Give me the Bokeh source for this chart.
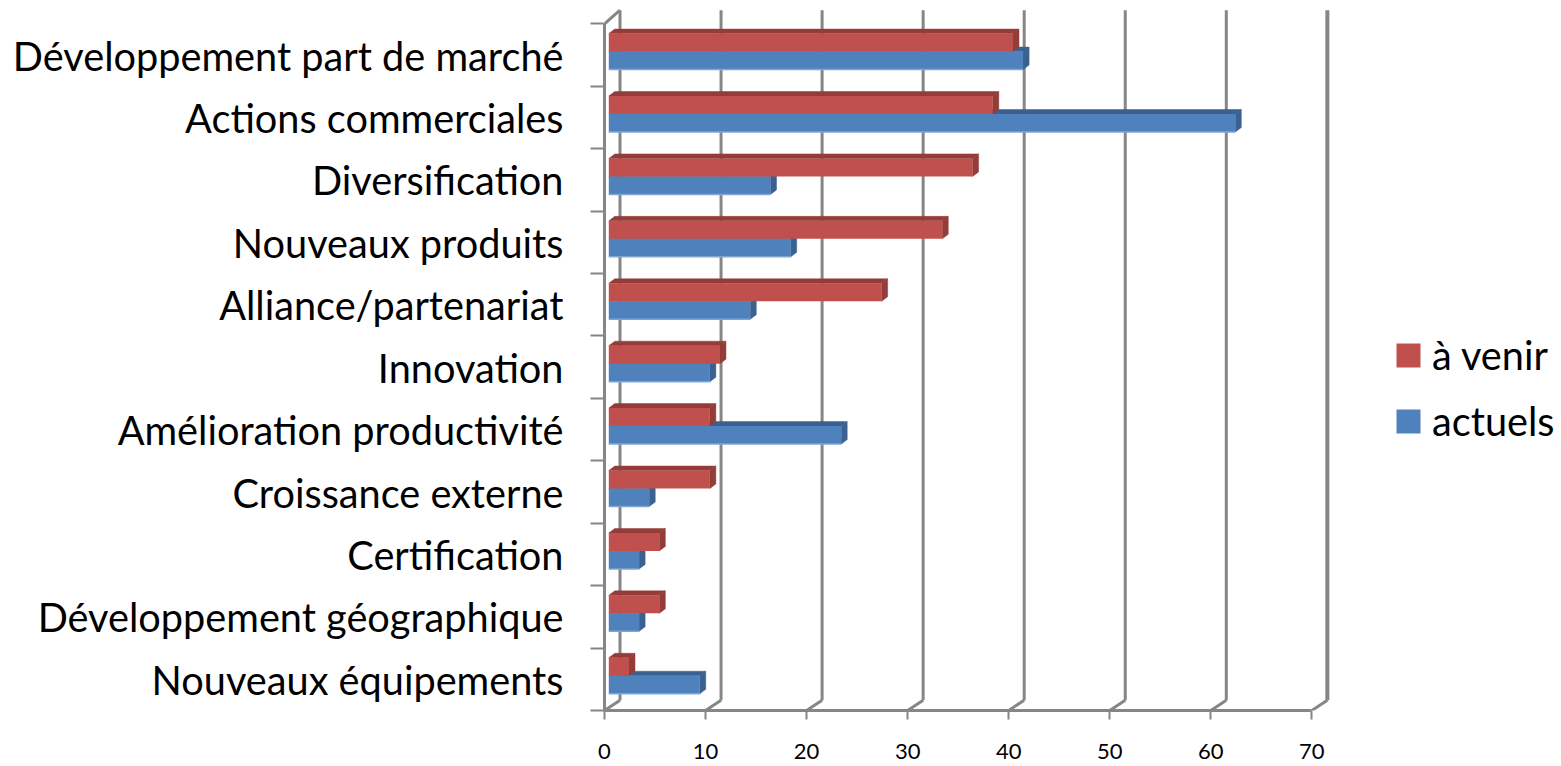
from bokeh.plotting import figure
from bokeh.models import LinearAxis, FixedTicker, Legend, LegendItem
from bokeh.embed import file_html
from bokeh.resources import INLINE

categories = ["Développement part de marché", "Actions commerciales", "Diversification",
              "Nouveaux produits", "Alliance/partenariat", "Innovation",
              "Amélioration productivité", "Croissance externe", "Certification",
              "Développement géographique", "Nouveaux équipements"]
a_venir = [40, 38, 36, 33, 27, 11, 10, 10, 5, 5, 2]
actuels = [41, 62, 16, 18, 14, 10, 23, 4, 3, 3, 9]
x_ticks = [0, 10, 20, 30, 40, 50, 60, 70]

FONT = "Lato"
GREY = "#868686"
RED, RED_D = "#C0504D", "#943C39"
BLUE, BLUE_D, BLUE_L = "#4F81BD", "#3A618F", "#7FA5D3"

PX_X = 101.05 / 10      # pixels per x unit
PX_Y = 686.6 / 11       # pixels per category
W, H = 1561, 766
LEFT, BOTTOM = 604, 56

n = len(categories)
p = figure(width=W, height=H, output_backend="svg", toolbar_location=None,
           x_range=(0, (W - LEFT) / PX_X), y_range=(0, (H - BOTTOM) / PX_Y),
           x_axis_location=None, y_axis_location=None,
           min_border_left=LEFT, min_border_right=0, min_border_top=0, min_border_bottom=BOTTOM,
           outline_line_color=None, background_fill_color="white", border_fill_color="white")
p.grid.visible = False

# walls of the 3-D box
wall_dx = 15.5 / PX_X
wall_dy = 10.3 / PX_Y
wall_top = n + 13.7 / PX_Y
wall_xs = [t + wall_dx for t in x_ticks]
for i, t in enumerate(x_ticks):
    lw = 4 if t == x_ticks[-1] else 3
    p.segment([wall_xs[i]], [wall_dy], [wall_xs[i]], [wall_top], line_color=GREY, line_width=lw)
    p.segment([t], [0], [wall_xs[i]], [wall_dy], line_color=GREY, line_width=3)
p.segment([0], [n], [wall_dx], [wall_top], line_color=GREY, line_width=3)

# 3-D bars
bar_x0 = 4.3 / PX_X
bar_h = 18 / PX_Y
dx, dy = 6 / PX_X, 4.5 / PX_Y
shift = 3.5 / PX_Y


def bars(values, offset, col, dark, light=None):
    ys_top = [n - i - 0.5 + shift + offset + bar_h for i in range(n)]
    ys_bot = [y - bar_h for y in ys_top]
    xs_end = [bar_x0 + v for v in values]
    top_x = [[bar_x0, e, e + dx, bar_x0 + dx] for e in xs_end]
    top_y = [[t, t, t + dy, t + dy] for t in ys_top]
    side_x = [[e, e + dx, e + dx, e] for e in xs_end]
    side_y = [[t, t + dy, b + dy, b] for t, b in zip(ys_top, ys_bot)]
    p.patches(top_x, top_y, fill_color=dark, line_color=dark, line_width=0.5)
    p.patches(side_x, side_y, fill_color=dark, line_color=dark, line_width=0.5)
    r = p.quad(left=[bar_x0] * n, right=xs_end, top=ys_top, bottom=ys_bot,
               fill_color=col, line_color=None)
    if light:
        p.segment([bar_x0] * n, ys_bot, xs_end, ys_bot, line_color=light, line_width=1.5)
    return r


r_blue = bars(actuels, -bar_h, BLUE, BLUE_D, BLUE_L)
r_red = bars(a_venir, 0, RED, RED_D)

# axes
xa = LinearAxis(ticker=FixedTicker(ticks=x_ticks), bounds=(0, 70))
xa.axis_line_color = GREY
xa.axis_line_width = 3
xa.major_tick_line_color = GREY
xa.major_tick_line_width = 2
xa.major_tick_in = 0
xa.major_tick_out = 9
xa.minor_tick_line_color = None
xa.major_label_text_font = FONT
xa.major_label_text_font_size = "22px"
xa.major_label_text_color = "black"
xa.major_label_standoff = 24
p.add_layout(xa, "below")

centers = [n - i - 0.5 for i in range(n)]
ya = LinearAxis(ticker=FixedTicker(ticks=centers, minor_ticks=list(range(n + 1))), bounds=(0, n))
ya.major_label_overrides = {c: lab for c, lab in zip(centers, categories)}
ya.axis_line_color = GREY
ya.axis_line_width = 3
ya.major_tick_line_color = None
ya.major_tick_in = 0
ya.major_tick_out = 0
ya.minor_tick_line_color = GREY
ya.minor_tick_line_width = 2
ya.minor_tick_in = 0
ya.minor_tick_out = 14
ya.major_label_text_font = FONT
ya.major_label_text_font_size = "39.7px"
ya.major_label_text_color = "black"
ya.major_label_standoff = 27
p.add_layout(ya, "left")

legend = Legend(items=[LegendItem(label="à venir", renderers=[r_red]),
                       LegendItem(label="actuels", renderers=[r_blue])],
                location=(789, 266), orientation="vertical", padding=0, margin=0,
                glyph_width=30, glyph_height=30, label_height=30, label_standoff=9, spacing=19,
                label_text_font=FONT, label_text_font_size="39.7px", label_text_color="black",
                border_line_color=None, background_fill_alpha=0)
p.add_layout(legend, "center")

open("out.html", "w").write(file_html(p, INLINE))
